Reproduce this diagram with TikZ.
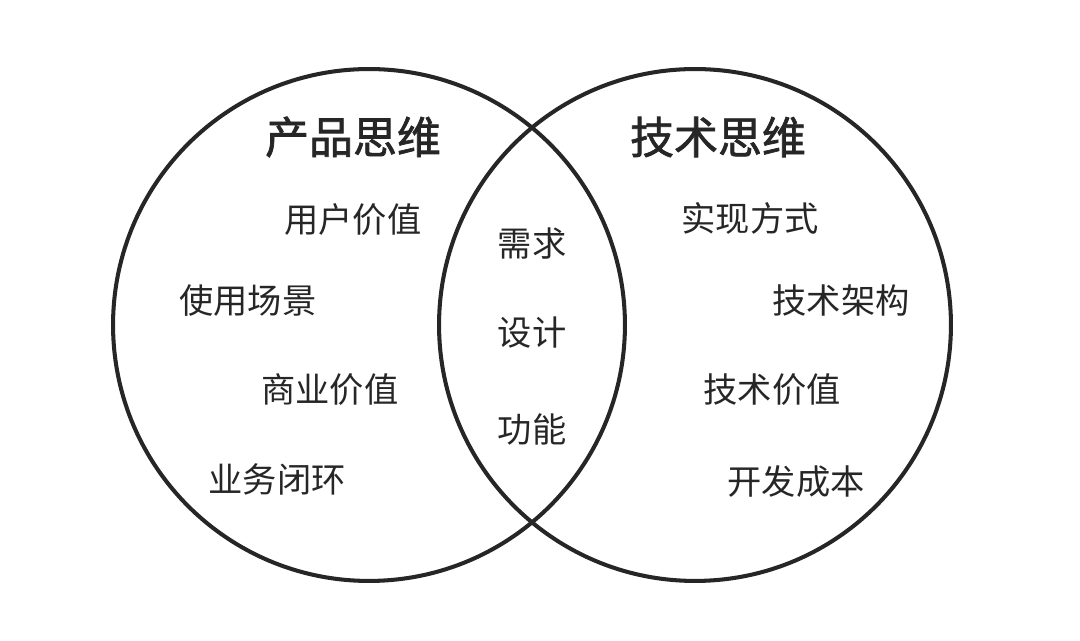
\documentclass[tikz,border=0pt]{standalone}
\usepackage{fontspec}
\setmainfont{Noto Sans CJK SC}
\newfontfamily\headfont[FakeBold=1.6]{Noto Sans CJK SC}
\usetikzlibrary{positioning}

\begin{document}
\begin{tikzpicture}[
  x=0.02cm, y=-0.02cm,
  ring/.style={draw=black!85, line width=2.3pt},
  title/.style={font=\headfont\fontsize{25}{30}\selectfont, text=black!85},
  item/.style={font=\fontsize{19.5}{24}\selectfont, text=black!85},
]
  \useasboundingbox (0,0) rectangle (1080,641);
  % the two circles
  \draw[ring] (369,325) circle[radius=5.12cm];
  \draw[ring] (695,325) circle[radius=5.12cm];

  % titles
  \node[title] (prod) at (353,137) {产品思维};
  \node[title] (tech) at (718,137) {技术思维};

  % product side
  \node[item] (uval)  at (353,220) {用户价值};
  \node[item] (scene) at (248,301) {使用场景};
  \node[item] (bval)  at (330,390) {商业价值};
  \node[item] (loop)  at (277,479) {业务闭环};

  % overlap
  \node[item] (need)   at (532,244) {需求};
  \node[item] (design) at (532,333) {设计};
  \node[item] (func)   at (532,429) {功能};

  % tech side
  \node[item] (impl) at (750,218) {实现方式};
  \node[item] (arch) at (841,301) {技术架构};
  \node[item] (tval) at (772,390) {技术价值};
  \node[item] (cost) at (796,482) {开发成本};
\end{tikzpicture}
\end{document}
